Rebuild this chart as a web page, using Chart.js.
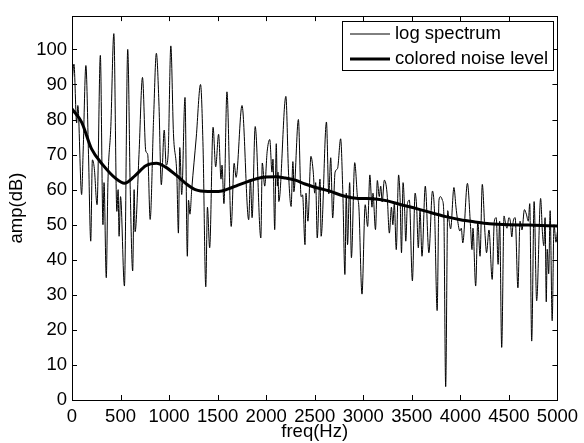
<!DOCTYPE html>
<html>
<head>
<meta charset="utf-8">
<script src="https://cdn.jsdelivr.net/npm/chart.js@4.4.1/dist/chart.umd.min.js"></script>
<style>
  html, body { margin: 0; padding: 0; background: #fff; }
  #wrap { width: 584px; height: 443px; position: relative; }
</style>
</head>
<body>
<div id="wrap"><canvas id="chart" width="584" height="443"></canvas></div>
<script>
// log spectrum (Hz, dB)
const specFreq = [
  0, 20, 48, 60, 99, 115, 143, 170, 193, 210, 230, 258, 292, 319, 330, 353, 370, 400, 431, 462,
  475, 485, 500, 540, 574, 600, 625, 640, 650, 690, 726, 760, 780, 805, 840, 869, 895, 920, 950, 970,
  990, 1018, 1045, 1080, 1096, 1110, 1130, 1164, 1188, 1200, 1215, 1233, 1280, 1324, 1350, 1378, 1395, 1418, 1453, 1480,
  1510, 1535, 1545, 1565, 1596, 1640, 1670, 1690, 1751, 1820, 1838, 1855, 1887, 1945, 1960, 1985, 2010, 2037, 2060, 2070,
  2088, 2104, 2115, 2122, 2130, 2203, 2230, 2257, 2275, 2280, 2285, 2332, 2360, 2375, 2400, 2410, 2430, 2461, 2485, 2500,
  2510, 2526, 2550, 2555, 2566, 2621, 2645, 2665, 2685, 2710, 2735, 2767, 2790, 2811, 2825, 2838, 2860, 2878, 2912, 2940,
  2955, 2987, 3020, 3045, 3068, 3090, 3100, 3126, 3145, 3165, 3180, 3195, 3217, 3245, 3269, 3290, 3305, 3320, 3340, 3364,
  3380, 3394, 3410, 3425, 3438, 3455, 3475, 3506, 3534, 3550, 3567, 3585, 3605, 3639, 3676, 3713, 3735, 3761, 3780, 3795,
  3815, 3830, 3849, 3870, 3885, 3900, 3934, 3955, 3971, 3995, 4010, 4025, 4073, 4105, 4120, 4130, 4158, 4180, 4203, 4226,
  4255, 4270, 4295, 4328, 4350, 4370, 4389, 4405, 4426, 4450, 4465, 4480, 4500, 4515, 4530, 4545, 4565, 4593, 4615, 4635,
  4660, 4680, 4700, 4715, 4735, 4760, 4786, 4827, 4845, 4860, 4873, 4885, 4895, 4910, 4925, 4946, 4965, 4985, 5000
];
const specAmp = [
  90, 95.8, 79, 84, 58.6, 71, 95.4, 70, 45.3, 68.5, 66, 55.7, 98.3, 50, 62, 34.9, 62, 78, 104.5, 53.8,
  60, 46.7, 58, 32.5, 100, 60, 36.8, 60, 48, 70, 92, 71, 70, 51.5, 80, 98.9, 85, 61.4, 77, 67,
  70, 101, 76, 64, 47.6, 72, 58.6, 86.3, 41, 57, 53, 60, 75, 90, 72, 32.3, 55, 43.4, 77.8, 66.5,
  75.8, 63, 67, 56, 87.9, 49.5, 67.5, 63.5, 84, 51.4, 63, 52, 78, 46.2, 67.6, 61, 70.8, 74.3, 65, 68.7,
  48.6, 73.1, 61, 65, 56.6, 86.6, 65, 55.2, 68, 66, 59.4, 80, 58, 58.5, 44.3, 59, 51, 69.5, 65, 59,
  62, 46.2, 62.3, 63, 46.7, 79.3, 58.8, 69.1, 51.9, 65, 66, 74.5, 58.8, 35.8, 59, 44.3, 62, 40.6, 67.7, 58,
  55, 30.2, 55.7, 49.5, 64.2, 55, 59, 48.6, 62.6, 58, 61, 56.5, 62.7, 59, 47.6, 55, 50, 56, 42.9, 64.2,
  57, 42, 62, 55, 45.3, 56, 57, 34, 59, 55, 43.4, 54, 41, 61, 42, 59.6, 53, 25.5, 57, 58,
  57, 53, 3.8, 54, 51, 48.8, 60.6, 55, 51.4, 48.2, 49, 44.8, 61.8, 49.5, 42.9, 49, 32.5, 51, 41, 61.5,
  47, 42, 48.5, 34.4, 51, 52, 38.7, 51, 15, 52.5, 50.5, 49, 52, 51, 46.5, 51, 52, 32, 51, 48.5,
  54.3, 53, 51, 56, 16.8, 56.6, 28.3, 57.5, 48, 44, 52, 28, 43, 36, 54, 22.6, 50, 45, 48
];

// colored noise level (smooth curve)
const noiseFreq = [0, 100, 200, 320, 450, 540, 650, 760, 870, 960, 1070, 1170, 1270, 1400, 1510, 1610, 1710, 1810, 1910, 2000,
  2100, 2200, 2300, 2400, 2500, 2650, 2800, 2950, 3100, 3250, 3400, 3550, 3700, 3850, 4000, 4150, 4300, 4500, 4700, 5000];
const noiseAmp = [83, 79.2, 71.7, 67, 63.2, 61.8, 64, 66.8, 67.5, 66.5, 64.2, 61.8, 60, 59.5, 59.5, 60.2, 61.3, 62.3, 63.2, 63.6,
  63.7, 63.3, 62.7, 61.6, 60.7, 59.6, 58.2, 57.5, 57.4, 56.8, 55.6, 54.6, 53.4, 52.3, 51.4, 50.8, 50.3, 50, 49.9, 49.6];

const xTicks = [0, 500, 1000, 1500, 2000, 2500, 3000, 3500, 4000, 4500, 5000];
const yTicks = [0, 10, 20, 30, 40, 50, 60, 70, 80, 90, 100];
const seriesNames = ['log spectrum', 'colored noise level'];

const FONT = 'Liberation Sans, Arial, Helvetica, sans-serif';

// MATLAB style box with inward ticks and a legend inside the axes
const boxPlugin = {
    id: 'box',
    afterDraw(chart) {
        const ctx = chart.ctx;
        const a = chart.chartArea;
        const xs = chart.scales.x, ys = chart.scales.y;
        const tl = 5;
        ctx.save();
        ctx.strokeStyle = '#000';
        ctx.lineWidth = 1;
        ctx.beginPath();
        xTicks.forEach(v => {
            const px = Math.round(xs.getPixelForValue(v)) + 0.5;
            ctx.moveTo(px, a.bottom); ctx.lineTo(px, a.bottom - tl);
            ctx.moveTo(px, a.top); ctx.lineTo(px, a.top + tl);
        });
        yTicks.forEach(v => {
            const py = Math.round(ys.getPixelForValue(v)) + 0.5;
            ctx.moveTo(a.left, py); ctx.lineTo(a.left + tl, py);
            ctx.moveTo(a.right, py); ctx.lineTo(a.right - tl, py);
        });
        ctx.stroke();
        ctx.strokeRect(Math.round(a.left) + 0.5, Math.round(a.top) + 0.5,
            Math.round(a.right - a.left), Math.round(a.bottom - a.top));

        // legend
        const lx = 342, ly = 21, lw = 211, lh = 49;
        ctx.fillStyle = '#fff';
        ctx.fillRect(lx, ly, lw, lh);
        ctx.strokeRect(lx + 0.5, ly + 0.5, lw, lh);
        ctx.font = '18.5px ' + FONT;
        ctx.textBaseline = 'middle';
        ctx.fillStyle = '#000';
        chart.data.datasets.forEach((ds, i) => {
            const y = ly + 13 + i * 25;
            ctx.lineWidth = ds.borderWidth;
            ctx.beginPath();
            ctx.moveTo(350, y); ctx.lineTo(390, y);
            ctx.stroke();
            ctx.fillText(ds.label, 395, y);
        });
        ctx.restore();
    }
};

new Chart(document.getElementById('chart'), {
    type: 'line',
    data: {
        datasets: [
            {
                label: seriesNames[0],
                data: specFreq.map((f, i) => ({ x: f, y: specAmp[i] })),
                borderColor: '#000',
                borderWidth: 1,
                pointRadius: 0,
                cubicInterpolationMode: 'monotone'
            },
            {
                label: seriesNames[1],
                data: noiseFreq.map((f, i) => ({ x: f, y: noiseAmp[i] })),
                borderColor: '#000',
                borderWidth: 3,
                pointRadius: 0,
                cubicInterpolationMode: 'monotone'
            }
        ]
    },
    options: {
        responsive: false,
        animation: false,
        layout: { padding: { top: 13, right: 21, left: 0, bottom: 0 } },
        plugins: { legend: { display: false }, tooltip: { enabled: false } },
        scales: {
            x: {
                type: 'linear',
                min: 0, max: 5000,
                grid: { display: false, drawTicks: false },
                border: { display: false },
                afterBuildTicks: s => { s.ticks = xTicks.map(v => ({ value: v })); },
                afterFit: s => { s.height = 43; },
                ticks: { color: '#000', font: { family: FONT, size: 18.5 }, padding: 6, maxRotation: 0, autoSkip: false,
                         callback: v => String(v) },
                title: { display: true, text: 'freq(Hz)', color: '#000', font: { family: FONT, size: 18.5 }, padding: 0 }
            },
            y: {
                min: 0, max: 109.5,
                grid: { display: false, drawTicks: false },
                border: { display: false },
                afterBuildTicks: s => { s.ticks = yTicks.map(v => ({ value: v })); },
                afterFit: s => { s.width = 72; },
                ticks: { color: '#000', font: { family: FONT, size: 18.5 }, padding: 5, callback: v => String(v) },
                title: { display: true, text: 'amp(dB)', color: '#000', font: { family: FONT, size: 18.5 },
                         padding: { top: 6, bottom: 0 } }
            }
        }
    },
    plugins: [boxPlugin]
});
</script>
</body>
</html>
